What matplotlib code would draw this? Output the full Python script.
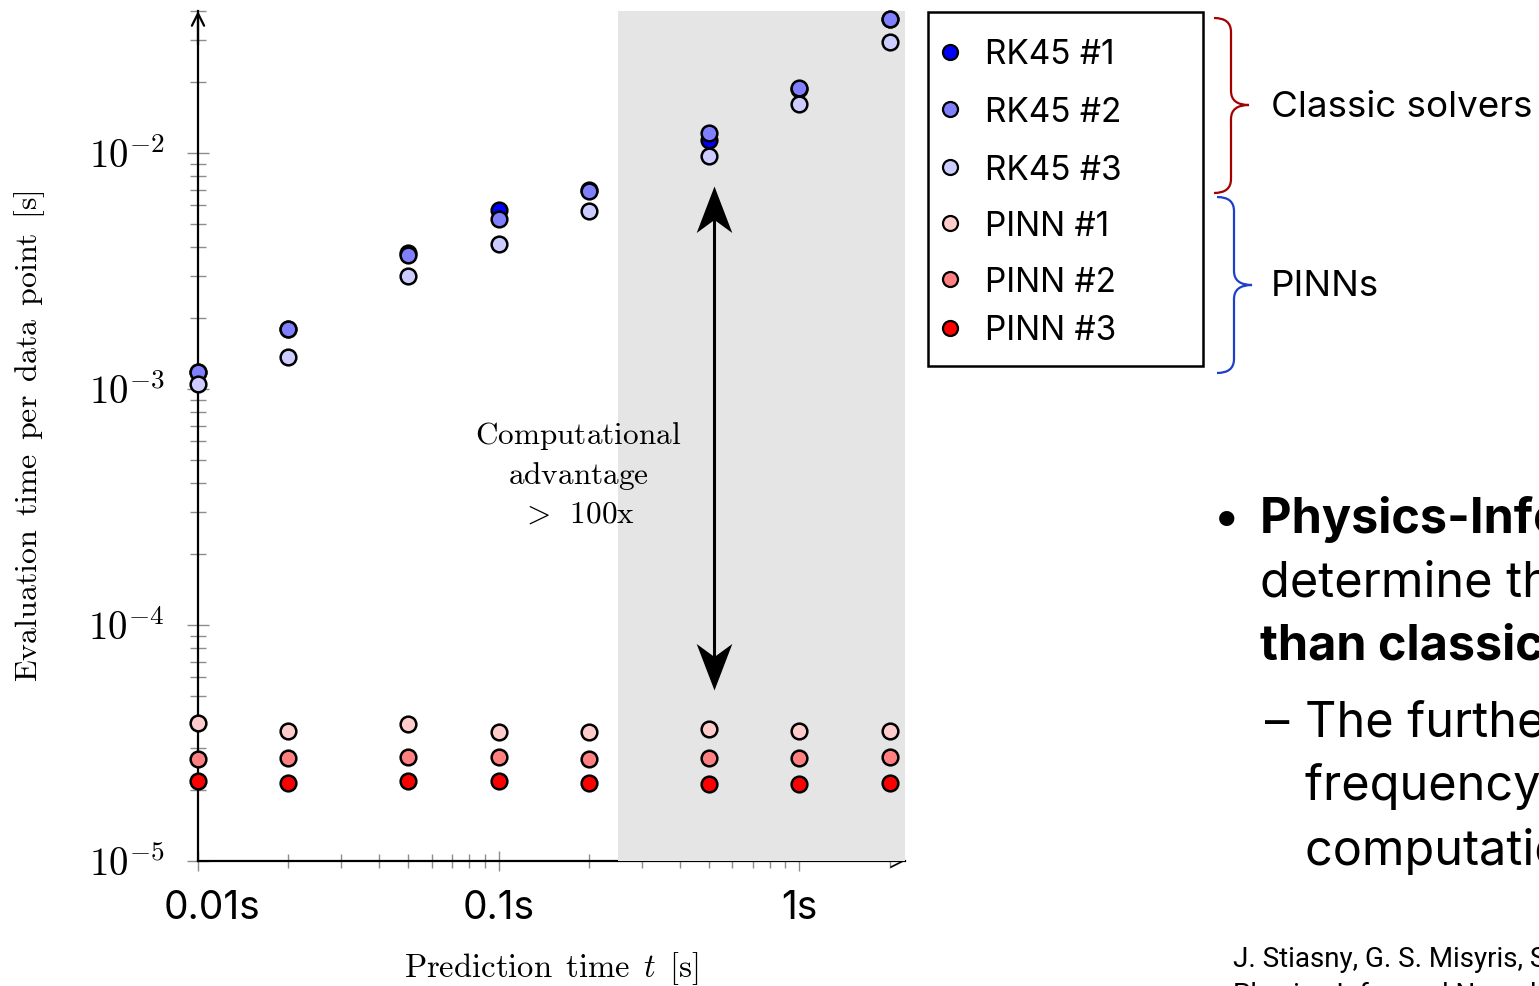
import matplotlib
matplotlib.use('Agg')
import matplotlib.pyplot as plt
import matplotlib.transforms as mtransforms
from matplotlib.path import Path
from matplotlib.patches import PathPatch, Rectangle
from matplotlib.lines import Line2D
from matplotlib.ticker import LogLocator, NullFormatter

plt.rcParams['mathtext.fontset'] = 'cm'
plt.rcParams['font.family'] = ['Inter', 'DejaVu Sans']

# prediction horizon t [s]
pred_time = [0.01, 0.02, 0.05, 0.1, 0.2, 0.5, 1.0, 2.0]

# evaluation time per data point [s]
rk45_1 = [1.18e-3, 1.79e-3, 3.77e-3, 5.73e-3, 7.0e-3, 1.135e-2, 1.87e-2, 3.70e-2]
rk45_2 = [1.18e-3, 1.79e-3, 3.70e-3, 5.25e-3, 6.9e-3, 1.216e-2, 1.88e-2, 3.70e-2]
rk45_3 = [1.05e-3, 1.37e-3, 3.01e-3, 4.11e-3, 5.68e-3, 9.71e-3, 1.61e-2, 2.95e-2]
pinn_1 = [3.84e-5, 3.57e-5, 3.81e-5, 3.52e-5, 3.52e-5, 3.62e-5, 3.56e-5, 3.56e-5]
pinn_2 = [2.70e-5, 2.73e-5, 2.77e-5, 2.76e-5, 2.70e-5, 2.73e-5, 2.73e-5, 2.75e-5]
pinn_3 = [2.18e-5, 2.14e-5, 2.18e-5, 2.18e-5, 2.14e-5, 2.12e-5, 2.12e-5, 2.15e-5]

series = [rk45_1, rk45_2, rk45_3, pinn_1, pinn_2, pinn_3]
labels = ['RK45 #1', 'RK45 #2', 'RK45 #3', 'PINN #1', 'PINN #2', 'PINN #3']
colors = ['#0000ff', '#8080ff', '#ccccff', '#ffcccc', '#ff8080', '#ff0000']

xticks = [0.01, 0.1, 1]
xtick_labels = ['0.01s', '0.1s', '1s']
yticks = [1e-5, 1e-4, 1e-3, 1e-2]
ytick_labels = [r'$10^{-5}$', r'$10^{-4}$', r'$10^{-3}$', r'$10^{-2}$']

W, H = 1539, 986
fig = plt.figure(figsize=(W / 100, H / 100), dpi=100)
# pixel coordinates, origin top-left
px = mtransforms.Affine2D().scale(1 / W, -1 / H).translate(0, 1) + fig.transFigure

ax = fig.add_axes([198 / W, 1 - 861 / H, (905 - 198) / W, (861 - 11) / H])
ax.set_xscale('log')
ax.set_yscale('log')
ax.set_xlim(0.01, 2.25)
ax.set_ylim(1e-5, 0.04)

for side in ['top', 'right']:
    ax.spines[side].set_visible(False)
ax.spines['left'].set_linewidth(1.6)
ax.spines['bottom'].set_linewidth(1.6)

# long-horizon region
ax.axvspan(0.25, 2.25, color='#e5e5e5', lw=0, zorder=3)

for vals, lab, col in zip(series, labels, colors):
    ax.plot(pred_time, vals, ls='none', marker='o', ms=11.3, mfc=col,
            mec='black', mew=1.8, zorder=5, clip_on=False, label=lab)

ax.set_xticks(xticks)
ax.set_xticklabels(xtick_labels, fontsize=28)
ax.set_yticks(yticks)
ax.set_yticklabels(ytick_labels, fontsize=28)
for axis in [ax.xaxis, ax.yaxis]:
    axis.set_minor_locator(LogLocator(base=10, subs=range(2, 10), numticks=20))
    axis.set_minor_formatter(NullFormatter())
ax.tick_params(axis='both', which='both', direction='inout', color='#8c8c8c', width=1)
ax.tick_params(axis='y', which='major', length=16, pad=16)
ax.tick_params(axis='y', which='minor', length=11)
ax.tick_params(axis='x', which='major', length=14, pad=14)
ax.tick_params(axis='x', which='minor', length=10)
# first x label sits a little right of its tick
first = ax.get_xticklabels()[0]
first.set_transform(first.get_transform()
                    + mtransforms.ScaledTranslation(0.14, 0, fig.dpi_scale_trans))

ax.set_ylabel(r'$\mathrm{Evaluation\enspace time\enspace per\enspace data\enspace point\enspace [s]}$',
              fontsize=23, va='center')
ax.yaxis.set_label_coords(-0.2376, 0.5)
ax.set_xlabel(r'$\mathrm{Prediction\enspace time}\enspace t\enspace \mathrm{[s]}$',
              fontsize=23.5, va='baseline')
ax.xaxis.set_label_coords(0.4993, -0.1365)

# axis arrow tips
ax.annotate('', xy=(0, 1), xytext=(0, 0.96), xycoords='axes fraction',
            arrowprops=dict(arrowstyle='->', lw=1.6, mutation_scale=22,
                            shrinkA=0, shrinkB=0), zorder=4)
ax.annotate('', xy=(1, 0), xytext=(0.95, 0), xycoords='axes fraction',
            arrowprops=dict(arrowstyle='->', lw=1.2, mutation_scale=22,
                            shrinkA=0, shrinkB=0), zorder=2.6)

# speed-up arrow between the two groups, stealth-style heads
arrow_x = 0.522
arrow_top, arrow_bot = 7.25e-3, 5.31e-5
stealth_up = Path([(0, 0), (-0.383, -1), (0, -0.72), (0.383, -1), (0, 0)],
                  [Path.MOVETO, Path.LINETO, Path.LINETO, Path.LINETO, Path.CLOSEPOLY])
stealth_down = stealth_up.transformed(mtransforms.Affine2D().scale(1, -1))
ax.plot([arrow_x, arrow_x], [arrow_top * 0.85, arrow_bot * 1.2], color='black',
        lw=2.2, zorder=6, solid_capstyle='butt')
ax.plot([arrow_x], [arrow_top], ls='none', marker=stealth_up, ms=67, color='black',
        mew=0, zorder=6)
ax.plot([arrow_x], [arrow_bot], ls='none', marker=stealth_down, ms=67, color='black',
        mew=0, zorder=6)

for txt, yb in zip([r'$\mathrm{Computational}$', r'$\mathrm{advantage}$',
                    r'$>\enspace 100\mathrm{x}$'],
                   [444, 484, 523]):
    fig.text(578, yb, txt, transform=px, fontsize=22.5, ha='center', va='baseline')

# legend box
fig.add_artist(Rectangle((928, 12), 275, 354, transform=px, fill=False,
                         edgecolor='black', lw=1.8))
legend_y = [52, 109, 167, 223, 279, 328]
for lab, col, yy in zip(labels, colors, legend_y):
    fig.add_artist(Line2D([950], [yy], transform=px, ls='none', marker='o', ms=10.8,
                          mfc=col, mec='black', mew=1.6))
    fig.text(985, yy, lab, transform=px, fontsize=24, va='center_baseline')


def brace(x_end, x_stem, x_tip, y_top, y_mid, y_bot, color):
    r = 14
    verts = [(x_end, y_top), (x_stem, y_top), (x_stem, y_top + r),
             (x_stem, y_mid - r), (x_stem, y_mid), (x_tip, y_mid),
             (x_stem, y_mid), (x_stem, y_mid + r),
             (x_stem, y_bot - r), (x_stem, y_bot), (x_end, y_bot)]
    codes = [Path.MOVETO, Path.CURVE3, Path.CURVE3, Path.LINETO,
             Path.CURVE3, Path.CURVE3, Path.CURVE3, Path.CURVE3,
             Path.LINETO, Path.CURVE3, Path.CURVE3]
    fig.add_artist(PathPatch(Path(verts, codes), transform=px, fill=False,
                             edgecolor=color, lw=1.6))


brace(1214, 1231, 1249, 18, 105, 193, '#a50000')
brace(1217, 1234, 1252, 197, 285, 373, '#1e3fc8')
fig.text(1271, 117, 'Classic solvers', transform=px, fontsize=26.5, va='baseline')
fig.text(1271, 296, 'PINNs', transform=px, fontsize=26.5, va='baseline')

# slide text
fig.text(1227, 533, '\u2022', transform=px, fontsize=35, ha='center', va='baseline')
body = [
    ('Physics-Informed Neural Networks', 'bold', 1260, 533),
    ('determine the system trajectories', 'normal', 1260, 597),
    ('than classical solvers', 'bold', 1260, 660),
    ('\u2013', 'normal', 1265, 737),
    ('The further ahead we predict', 'normal', 1305, 737),
    ('frequency and angle, the larger the', 'normal', 1305, 800),
    ('computational advantage', 'normal', 1305, 865),
]
for txt, weight, xx, yy in body:
    fig.text(xx, yy, txt, transform=px, fontsize=35, fontweight=weight, va='baseline')

fig.text(1233, 967, 'J. Stiasny, G. S. Misyris, S. Chatzivasileiadis,', transform=px,
         fontsize=20, family=['Roboto', 'DejaVu Sans'], va='baseline')
fig.text(1233, 1003, 'Physics-Informed Neural Networks for Non-linear System Identification',
         transform=px, fontsize=20, family=['Roboto', 'DejaVu Sans'], va='baseline')

fig.savefig('out.png', dpi=100)
